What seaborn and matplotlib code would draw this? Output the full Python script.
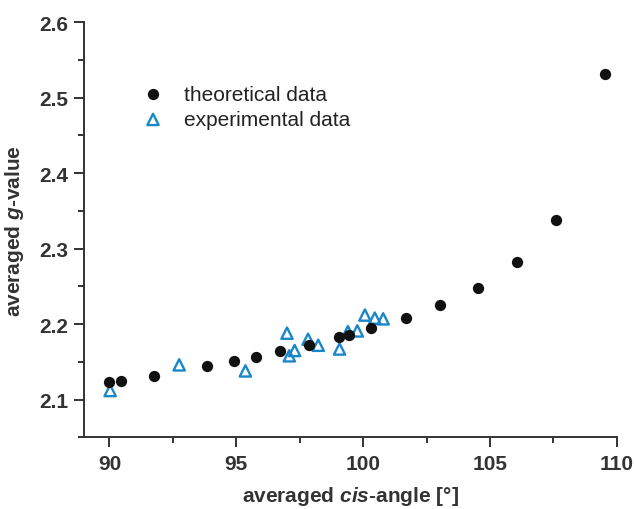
import pandas as pd
import matplotlib
matplotlib.use("Agg")
import matplotlib.pyplot as plt
from matplotlib.ticker import MultipleLocator
import seaborn as sns

# theoretical data (black circles)
theo_angle = [90.0, 90.45, 91.75, 93.86, 94.91, 95.79, 96.74, 97.88, 99.04, 99.46,
              100.32, 101.67, 103.03, 104.52, 106.07, 107.62, 109.52]
theo_g = [2.123, 2.125, 2.131, 2.145, 2.151, 2.157, 2.164, 2.172, 2.183, 2.186,
          2.195, 2.208, 2.225, 2.248, 2.282, 2.338, 2.531]

# experimental data (blue triangles)
exp_angle = [90.03, 92.75, 95.36, 97.0, 97.09, 97.3, 97.83, 98.23, 99.07, 99.4,
             99.77, 100.07, 100.46, 100.79]
exp_g = [2.112, 2.146, 2.138, 2.188, 2.158, 2.165, 2.180, 2.172, 2.167, 2.190,
         2.191, 2.212, 2.208, 2.207]

theo = pd.DataFrame({"angle": theo_angle, "g": theo_g})
exp = pd.DataFrame({"angle": exp_angle, "g": exp_g})

sns.set_style("ticks")
plt.rcParams["font.family"] = ["Liberation Sans", "DejaVu Sans"]
plt.rcParams["mathtext.fontset"] = "custom"
plt.rcParams["mathtext.rm"] = "Liberation Sans"
plt.rcParams["mathtext.it"] = "Liberation Sans:italic"
plt.rcParams["mathtext.bf"] = "Liberation Sans:bold"
plt.rcParams["mathtext.bfit"] = "Liberation Sans:italic:bold"

fig = plt.figure(figsize=(6.34, 5.10), dpi=100)
ax = fig.add_axes([0.1325, 0.1406, 0.8405, 0.8137])

blue = "#1a87c8"
sns.scatterplot(data=theo, x="angle", y="g", ax=ax, marker="o", s=66,
                color="#111111", edgecolor="#111111", linewidth=0,
                label="theoretical data", zorder=3)
sns.scatterplot(data=exp, x="angle", y="g", ax=ax, marker="^", s=66,
                facecolor="none", edgecolor=blue, linewidth=1.7,
                label="experimental data", zorder=2)

ax.set_xlim(89, 110)
ax.set_ylim(2.05, 2.6)
ax.xaxis.set_major_locator(MultipleLocator(5))
ax.xaxis.set_minor_locator(MultipleLocator(2.5))
ax.yaxis.set_major_locator(MultipleLocator(0.1))
ax.yaxis.set_minor_locator(MultipleLocator(0.05))
ax.set_xticks([90, 95, 100, 105, 110])

sns.despine(ax=ax)
for s in ["left", "bottom"]:
    ax.spines[s].set_linewidth(1.4)
    ax.spines[s].set_color("#333333")
ax.tick_params(which="major", length=7, width=1.4, color="#333333",
               labelsize=15, labelcolor="#333333", direction="out")
ax.tick_params(which="minor", length=4.5, width=1.4, color="#333333",
               direction="out")
for lab in ax.get_xticklabels() + ax.get_yticklabels():
    lab.set_fontweight("bold")
ax.tick_params(axis="x", pad=5)
ax.tick_params(axis="y", pad=4)

ax.set_xlabel("averaged $\\mathbfit{cis}$-angle [°]", fontsize=15,
              fontweight="bold", color="#333333", labelpad=8)
ax.set_ylabel("averaged $\\mathbfit{g}$-value", fontsize=15,
              fontweight="bold", color="#333333", labelpad=10)

leg = ax.legend(loc="upper left", bbox_to_anchor=(0.065, 0.895), frameon=False,
                fontsize=15, handletextpad=0.75, labelspacing=0.3,
                handlelength=1.5)
for t in leg.get_texts():
    t.set_color("#222222")

fig.savefig("out.png", dpi=100)
